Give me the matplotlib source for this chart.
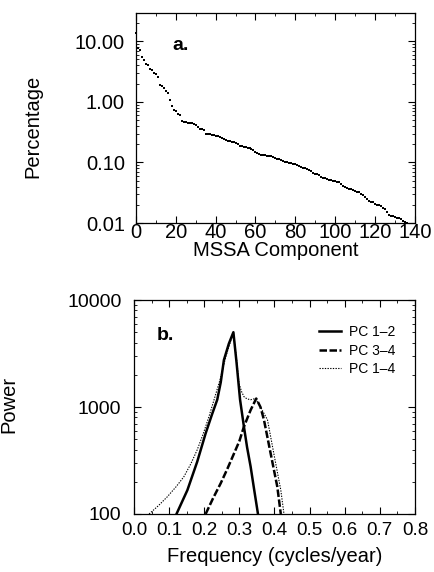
import numpy as np
import matplotlib
matplotlib.use("Agg")
import matplotlib.pyplot as plt
from matplotlib.ticker import MultipleLocator, LogLocator, NullFormatter

plt.rcParams['font.family'] = ['Liberation Sans', 'DejaVu Sans']

# panel a: MSSA eigenvalue spectrum (percentage of variance)
pct = [13.8, 7.6, 7.2, 5.5, 4.9, 4.2, 4.0, 3.5, 3.4, 3.0,
       2.85, 2.6, 1.9, 1.85, 1.66, 1.5, 1.4, 1.06, 0.85, 0.72,
       0.70, 0.62, 0.60, 0.48, 0.47, 0.46, 0.45, 0.45, 0.44, 0.43,
       0.42, 0.39, 0.36, 0.35, 0.34, 0.30, 0.29, 0.29, 0.285, 0.28,
       0.275, 0.27, 0.26, 0.25, 0.24, 0.235, 0.23, 0.225, 0.22, 0.215,
       0.21, 0.20, 0.19, 0.185, 0.18, 0.178, 0.175, 0.17, 0.165, 0.16,
       0.15, 0.142, 0.138, 0.135, 0.133, 0.131, 0.13, 0.128, 0.126, 0.124,
       0.12, 0.116, 0.113, 0.11, 0.106, 0.103, 0.101, 0.099, 0.097, 0.095,
       0.093, 0.09, 0.087, 0.084, 0.082, 0.08, 0.077, 0.074, 0.071, 0.066,
       0.065, 0.064, 0.061, 0.058, 0.056, 0.055, 0.053, 0.052, 0.051, 0.050,
       0.049, 0.048, 0.047, 0.044, 0.041, 0.040, 0.038, 0.037, 0.036, 0.035,
       0.034, 0.033, 0.032, 0.030, 0.029, 0.027, 0.025, 0.023, 0.022, 0.022,
       0.021, 0.020, 0.0195, 0.019, 0.018, 0.017, 0.015, 0.0135, 0.0132, 0.013,
       0.0127, 0.0123, 0.012, 0.0115, 0.0110, 0.0105, 0.0102]
component = np.arange(len(pct))

# panel b: power spectra of reconstructed PCs
pc12_freq = [0.121, 0.152, 0.180, 0.204, 0.222, 0.237, 0.247, 0.256, 0.270, 0.283,
             0.292, 0.302, 0.313, 0.322, 0.332, 0.342, 0.353]
pc12_pow = [100, 167, 308, 567, 850, 1170, 1700, 2750, 3900, 5000,
            2600, 1170, 655, 420, 278, 170, 100]

pc34_freq = [0.204, 0.225, 0.247, 0.266, 0.285, 0.300, 0.313, 0.332, 0.348,
             0.360, 0.370, 0.389, 0.408, 0.418]
pc34_pow = [100, 140, 194, 265, 369, 480, 655, 935, 1200,
            1000, 760, 369, 180, 100]

pc14_freq = [0.043, 0.070, 0.095, 0.120, 0.142, 0.162, 0.180, 0.197, 0.2135, 0.228,
             0.245, 0.262, 0.283, 0.292, 0.299, 0.306, 0.313, 0.322, 0.332, 0.346,
             0.360, 0.380, 0.398, 0.418, 0.427]
pc14_pow = [100, 120, 145, 180, 223, 295, 398, 560, 815, 1170,
            1800, 3000, 5000, 2800, 1660, 1400, 1250, 1190, 1170, 1200,
            1000, 760, 369, 167, 100]

fig = plt.figure(figsize=(4.35, 5.72), dpi=100)

# ---- panel a
ax1 = fig.add_axes([0.3126, 0.610, 0.641, 0.367])
ax1.plot(component, pct, linestyle='none', marker='s', markersize=1.9,
         color='black', markeredgewidth=0, clip_on=False)
ax1.set_yscale('log')
ax1.set_xlim(0, 140)
ax1.set_ylim(0.01, 29)
ax1.set_yticks([0.01, 0.1, 1, 10])
ax1.set_yticklabels(['0.01', '0.10', '1.00', '10.00'])
ax1.yaxis.set_minor_locator(LogLocator(base=10, subs=np.arange(2, 10)))
ax1.yaxis.set_minor_formatter(NullFormatter())
ax1.set_xticks(np.arange(0, 141, 20))
ax1.xaxis.set_minor_locator(MultipleLocator(10))
ax1.set_xlabel('MSSA Component', fontsize=14.5)
ax1.xaxis.set_label_coords(0.5, -0.085)
ax1.set_ylabel('Percentage', fontsize=14.5)
ax1.yaxis.set_label_coords(-0.337, 0.46)
ax1.text(0.13, 0.886, 'a.', transform=ax1.transAxes, fontsize=14,
         fontweight='bold', va='top', ha='left')
ax1.tick_params(axis='x', labelsize=14.5, pad=0)
ax1.tick_params(axis='y', labelsize=14.5, pad=8)

# ---- panel b
ax2 = fig.add_axes([0.308, 0.1014, 0.646, 0.3741])
ax2.plot(pc12_freq, pc12_pow, color='black', linewidth=1.8, label='PC 1\u20132')
ax2.plot(pc34_freq, pc34_pow, color='black', linewidth=1.8,
         linestyle=(0, (3, 1)), label='PC 3\u20134')
ax2.plot(pc14_freq, pc14_pow, color='black', linewidth=0.8,
         linestyle=(0, (1.2, 1.2)), label='PC 1\u20134')
ax2.set_yscale('log')
ax2.set_xlim(0, 0.8)
ax2.set_ylim(100, 10000)
ax2.set_yticks([100, 1000, 10000])
ax2.set_yticklabels(['100', '1000', '10000'])
ax2.yaxis.set_minor_locator(LogLocator(base=10, subs=np.arange(2, 10)))
ax2.yaxis.set_minor_formatter(NullFormatter())
ax2.set_xticks(np.arange(0, 0.81, 0.1))
ax2.set_xticklabels(['%.1f' % v for v in np.arange(0, 0.81, 0.1)])
ax2.xaxis.set_minor_locator(MultipleLocator(0.05))
ax2.set_xlabel('Frequency (cycles/year)', fontsize=14.5)
ax2.xaxis.set_label_coords(0.5, -0.155)
ax2.set_ylabel('Power', fontsize=14.5)
ax2.yaxis.set_label_coords(-0.413, 0.51)
ax2.text(0.082, 0.874, 'b.', transform=ax2.transAxes, fontsize=14,
         fontweight='bold', va='top', ha='left')
ax2.legend(loc='upper right', bbox_to_anchor=(0.975, 0.94), frameon=False,
           fontsize=10, handlelength=1.6, handletextpad=0.6, labelspacing=0.3)
ax2.tick_params(axis='x', labelsize=13.5, pad=6)
ax2.tick_params(axis='y', labelsize=14, pad=9)

for ax in (ax1, ax2):
    ax.tick_params(which='both', direction='in', top=True, right=True)
    ax.tick_params(which='major', length=5, width=0.8)
    ax.tick_params(which='minor', length=2.5, width=0.6)
    for s in ax.spines.values():
        s.set_linewidth(0.9)

fig.savefig('out.png', dpi=100)
